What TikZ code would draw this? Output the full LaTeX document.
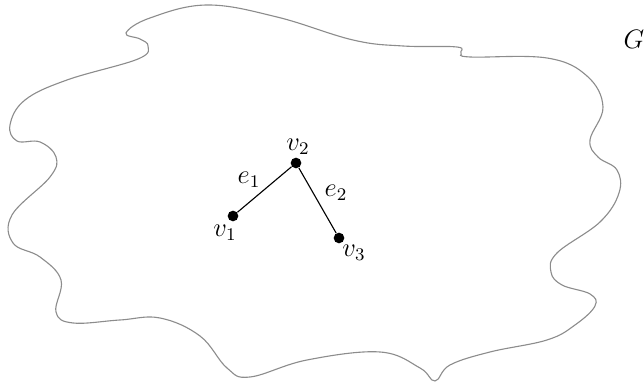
\documentclass[tikz,border=0pt]{standalone}
\begin{document}
\begin{tikzpicture}[x=0.45pt,y=-0.45pt,
  dot/.style={circle,fill=black,inner sep=0pt,minimum size=4.8pt},
  lbl/.style={inner sep=0pt,font=\large},
  blob/.style={draw=black!45,line width=0.5pt},
  edge/.style={draw=black,line width=0.5pt}]
\useasboundingbox (0,0) rectangle (644,383);
\draw[blob] plot[smooth cycle, tension=0.65] coordinates {
 (126,33) (150,18) (207,5) (277,17) (353,40) (403,46) (457,47) (461,53) (470,57)
 (547,58) (587,76) (603,107) (590,140) (598,157) (617,170) (619,193) (600,222)
 (557,253) (551,272) (562,285) (590,294) (595,306) (575,325) (547,340) (490,352)
 (450,365) (435,381) (420,368) (380,352) (307,360) (250,377) (227,368) (200,336)
 (160,318) (120,320) (73,323) (56,312) (61,280) (40,257) (13,243) (12,215)
 (50,177) (56,157) (40,142) (17,141) (10,125) (25,100) (67,80) (138,59) (148,46)
 (140,39)};
\node[dot] (v1) at (233,216) {};
\node[dot] (v2) at (296,163) {};
\node[dot] (v3) at (339,238) {};
\draw[edge] (v1) -- (v2);
\draw[edge] (v2) -- (v3);
\node[lbl] (l1) at (225,233) {$v_1$};
\node[lbl] (l2) at (298,147) {$v_2$};
\node[lbl] (l3) at (354,253) {$v_3$};
\node[lbl] (le1) at (249,180) {$e_1$};
\node[lbl] (le2) at (336,193) {$e_2$};
\node[lbl] (g) at (634,39) {$G$};
\end{tikzpicture}
\end{document}
